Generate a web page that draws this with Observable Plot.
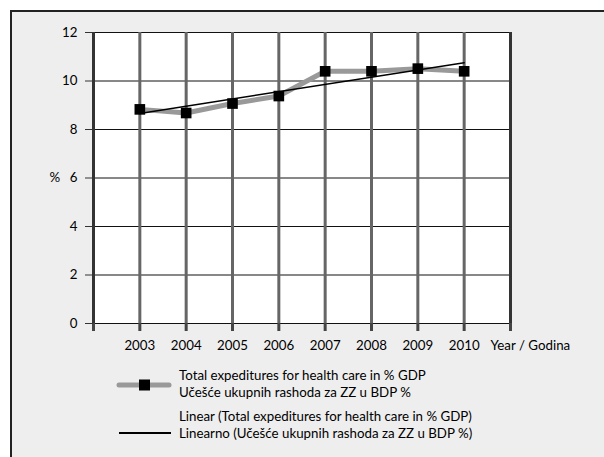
<!DOCTYPE html>
<html>
<head>
<meta charset="utf-8">
<script src="https://cdn.jsdelivr.net/npm/d3@7"></script>
<script src="https://cdn.jsdelivr.net/npm/@observablehq/plot@0.6"></script>
<style>
  html, body { margin: 0; padding: 0; background: #fff; }
  body { width: 604px; height: 457px; position: relative; overflow: hidden; font-family: Lato, "Open Sans", sans-serif; }
  #box { position: absolute; left: 10px; top: 10px; width: 592px; height: 445px; background: #eeeeee; border-left: 2px solid #222; border-top: 2px solid #222; }
  #chart { position: absolute; left: 0; top: 0; }
  .leg { position: absolute; font-size: 13.3px; line-height: 17px; color: #000; white-space: nowrap; }
  .sw { position: absolute; }
</style>
</head>
<body>
<div id="box"></div>
<div id="chart"></div>
<svg class="sw" style="left:110px;top:375px" width="70" height="70">
  <line x1="9" y1="10" x2="59" y2="10" stroke="#999" stroke-width="5" stroke-linecap="round"/>
  <rect x="29" y="4.5" width="11" height="11" fill="#000"/>
  <line x1="9" y1="58" x2="61" y2="58" stroke="#000" stroke-width="2"/>
</svg>
<div class="leg" id="leg1" style="left:179px;top:367px"></div>
<div class="leg" id="leg2" style="left:179px;top:408px"></div>
<script>
const years = [2003, 2004, 2005, 2006, 2007, 2008, 2009, 2010];
const values = [8.83, 8.68, 9.07, 9.38, 10.4, 10.4, 10.51, 10.4];
const yTicks = [0, 2, 4, 6, 8, 10, 12];
const xGrid = [2002, 2003, 2004, 2005, 2006, 2007, 2008, 2009, 2010, 2011];
const xEdges = [2002, 2011];
const xAxisTitle = "Year / Godina";
const yAxisTitle = "%";
const seriesName = ["Total expeditures for health care in % GDP", "Učešće ukupnih rashoda za ZZ u BDP %"];
const trendName = ["Linear (Total expeditures for health care in % GDP)", "Linearno (Učešće ukupnih rashoda za ZZ u BDP %)"];

const grid = years.map(d => ({x: d}));
const edges = xEdges.map(d => ({x: d}));
const data = years.map((y, i) => ({year: y, value: values[i]}));

const chart = Plot.plot({
  width: 604,
  height: 360,
  marginLeft: 93,
  marginRight: 94,
  marginTop: 32,
  marginBottom: 37,
  style: {background: "transparent", fontFamily: "Lato, 'Open Sans', sans-serif", fontSize: "13.3px", color: "#000"},
  x: {domain: [2002, 2011]},
  y: {domain: [0, 12]},
  marks: [
    Plot.frame({fill: "white", stroke: null}),
    Plot.ruleY(yTicks, {stroke: "#111", strokeWidth: 1}),
    Plot.ruleX(grid, {x: "x", y1: 0, y2: 12, stroke: "#666", strokeWidth: 3}),
    Plot.ruleX(edges, {x: "x", y1: 0, y2: 12, stroke: "#333", strokeWidth: 3}),
    Plot.axisX(xGrid, {tickSize: 8, tickPadding: 9, stroke: "#444", strokeWidth: 3, tickFormat: d => years.includes(d) ? String(d) : "", label: null}),
    Plot.axisY(yTicks, {tickSize: 8, tickPadding: 8, stroke: "#333", label: null}),
    Plot.line(data, {x: "year", y: "value", stroke: "#999", strokeWidth: 5}),
    Plot.linearRegressionY(data, {x: "year", y: "value", ci: 0, stroke: "#000", strokeWidth: 1.5}),
    Plot.dot(data, {x: "year", y: "value", symbol: "square", r: 6, fill: "#000", stroke: null}),
    Plot.text([6], {y: d => d, frameAnchor: "left", dx: -44, text: () => yAxisTitle}),
    Plot.text([2011], {x: d => d, frameAnchor: "bottom", textAnchor: "start", lineAnchor: "top", dx: -20, dy: 17, text: () => xAxisTitle})
  ]
});
document.getElementById("chart").appendChild(chart);
document.getElementById("leg1").innerHTML = seriesName.join("<br>");
document.getElementById("leg2").innerHTML = trendName.join("<br>");
</script>
</body>
</html>
